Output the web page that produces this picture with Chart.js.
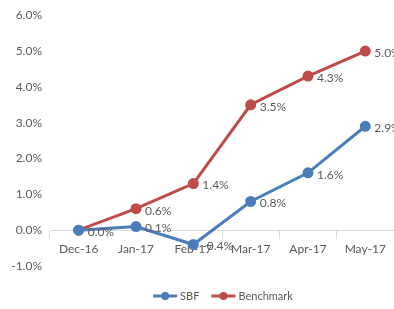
<!DOCTYPE html>
<html>
<head>
<meta charset="utf-8">
<script src="https://cdn.jsdelivr.net/npm/chart.js@4/dist/chart.umd.min.js"></script>
<style>
  html, body { margin: 0; padding: 0; background: #fff; overflow: hidden; }
  #wrap { width: 394px; height: 309px; position: relative; }
</style>
</head>
<body>
<div id="wrap"><canvas id="perfChart"></canvas></div>
<script>
// values
var months = ['Dec-16', 'Jan-17', 'Feb-17', 'Mar-17', 'Apr-17', 'May-17'];
var sbf = [0.0, 0.1, -0.4, 0.8, 1.6, 2.9];
var benchmark = [0.0, 0.6, 1.3, 3.5, 4.3, 5.0];
var sbfLabels = ['0.0%', '0.1%', '-0.4%', '0.8%', '1.6%', '2.9%'];
var benchLabels = ['', '0.6%', '1.4%', '3.5%', '4.3%', '5.0%'];

var FONT = 'Lato, "Open Sans", Arial, sans-serif';
var TEXT = '#595959';
var BLUE = '#4a7ebb';
var RED = '#be4b48';

var pointLabels = {
  id: 'pointLabels',
  afterDatasetsDraw: function(chart) {
    var ctx = chart.ctx;
    var sets = [sbfLabels, benchLabels];
    ctx.save();
    ctx.font = '12px ' + FONT;
    ctx.fillStyle = TEXT;
    ctx.textAlign = 'left';
    ctx.textBaseline = 'middle';
    sets.forEach(function(texts, i) {
      var meta = chart.getDatasetMeta(i);
      meta.data.forEach(function(pt, j) {
        if (texts[j]) ctx.fillText(texts[j], pt.x + 9, pt.y + 2);
      });
    });
    ctx.restore();
  }
};

// Excel-like legend: line with a marker in the middle, then the name
var lineLegend = {
  id: 'lineLegend',
  afterDraw: function(chart) {
    var ctx = chart.ctx;
    var area = chart.chartArea;
    var sw = 24, gap = 3, between = 12;
    ctx.save();
    ctx.font = '11px ' + FONT;
    var items = chart.data.datasets.map(function(ds) {
      return { ds: ds, w: sw + gap + ctx.measureText(ds.label).width };
    });
    var total = items.reduce(function(s, it) { return s + it.w; }, 0) + between * (items.length - 1);
    var x = (area.left + area.right) / 2 - total / 2 + 1;
    var y = area.bottom + 30;
    items.forEach(function(it) {
      ctx.strokeStyle = it.ds.borderColor;
      ctx.fillStyle = it.ds.borderColor;
      ctx.lineWidth = 3;
      ctx.beginPath(); ctx.moveTo(x, y); ctx.lineTo(x + sw, y); ctx.stroke();
      ctx.beginPath(); ctx.arc(x + sw / 2, y, 4, 0, Math.PI * 2); ctx.fill();
      ctx.fillStyle = TEXT;
      ctx.textAlign = 'left';
      ctx.textBaseline = 'middle';
      ctx.fillText(it.ds.label, x + sw + gap, y);
      x += it.w + between;
    });
    ctx.restore();
  }
};

var ctx = document.getElementById('perfChart').getContext('2d');
new Chart(ctx, {
  type: 'line',
  data: {
    labels: months,
    datasets: [
      {
        label: 'SBF',
        data: sbf,
        borderColor: BLUE,
        backgroundColor: BLUE,
        borderWidth: 3,
        pointStyle: 'circle',
        pointRadius: 4,
        pointHoverRadius: 4,
        tension: 0
      },
      {
        label: 'Benchmark',
        data: benchmark,
        borderColor: RED,
        backgroundColor: RED,
        borderWidth: 3,
        pointStyle: 'circle',
        pointRadius: 4,
        pointHoverRadius: 4,
        tension: 0
      }
    ]
  },
  options: {
    responsive: true,
    maintainAspectRatio: false,
    animation: false,
    layout: { autoPadding: false, padding: { top: 4, right: 0, left: 0, bottom: 43 } },
    plugins: {
      legend: { display: false },
      tooltip: { enabled: false }
    },
    scales: {
      x: {
        position: { y: 0 },
        offset: true,
        afterFit: function(scale) { scale.paddingLeft = 0; scale.paddingRight = 0; },
        grid: {
          display: true,
          offset: true,
          drawOnChartArea: false,
          drawTicks: true,
          tickLength: 8,
          color: '#d9d9d9'
        },
        border: { display: true, color: '#d9d9d9', width: 1 },
        ticks: {
          color: TEXT,
          font: { family: FONT, size: 12 },
          padding: 4,
          maxRotation: 0
        }
      },
      y: {
        min: -1,
        max: 6,
        grid: { display: false, drawTicks: false },
        border: { display: false },
        afterFit: function(scale) { scale.width = 50; },
        ticks: {
          stepSize: 1,
          padding: 8,
          color: TEXT,
          font: { family: FONT, size: 12 },
          callback: function(v) { return v.toFixed(1) + '%'; }
        }
      }
    }
  },
  plugins: [pointLabels, lineLegend]
});
</script>
</body>
</html>
